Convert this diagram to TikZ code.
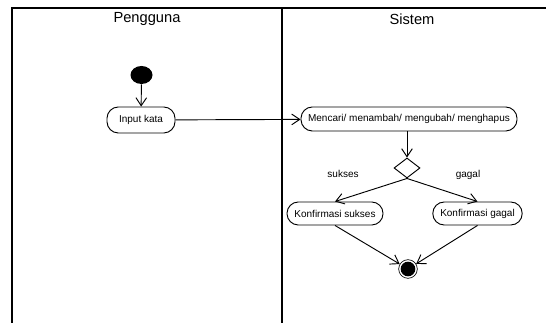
\documentclass[tikz,border=0pt]{standalone}
\usepackage{fontspec}
\setmainfont{Liberation Sans}
\usetikzlibrary{arrows.meta,shapes.geometric}

\tikzset{
  lane/.style={line width=1pt, draw=black},
  action/.style={draw, line width=0.7pt, rounded corners=8.5pt, inner sep=0pt,
                 minimum height=18pt, font=\fontsize{7.5}{9}\selectfont},
  flow/.style={line width=0.7pt, -{Straight Barb[length=6pt,width=8pt,line width=0.7pt]}},
  lanetitle/.style={font=\fontsize{11}{13}\selectfont},
  guard/.style={font=\fontsize{7.5}{9}\selectfont},
  decision/.style={draw, diamond, line width=0.7pt, inner sep=0pt,
                   minimum width=19.5pt, minimum height=15pt},
}

\begin{document}
\begin{tikzpicture}[x=0.75pt, y=-0.75pt]
  \useasboundingbox (0,0) rectangle (546,323);

  % swimlanes
  \draw[lane] (12,323) -- (12,8) -- (546,8);
  \draw[lane] (282,8) -- (282,323);
  \node[lanetitle] (lanePengguna) at (147,19) {Pengguna};
  \node[lanetitle] (laneSistem) at (412,19) {Sistem};

  % start and end
  \node[ellipse, fill=black, minimum width=16.5pt, minimum height=13.5pt, inner sep=0pt] (start) at (141.5,75) {};
  \node[circle, draw, line width=0.5pt, minimum size=14pt, inner sep=0pt] (finish) at (408,269) {};
  \node[circle, fill=black, minimum size=11pt, inner sep=0pt] (finishdot) at (finish) {};

  % actions
  \node[action, minimum width=51pt, minimum height=19.5pt] (input) at (141,120) {Input kata};
  \node[action, minimum width=162pt] (proses) at (409,119) {Mencari/ menambah/ mengubah/ menghapus};
  \node[decision] (cek) at (407,168) {};
  \node[action, minimum width=72pt, minimum height=17.25pt] (sukses) at (335,213.5) {Konfirmasi sukses};
  \node[action, minimum width=67pt, minimum height=17.25pt] (gagal) at (477.5,213.5) {Konfirmasi gagal};

  % guards
  \node[guard] (lblSukses) at (343,174) {sukses};
  \node[guard] (lblGagal) at (468,175) {gagal};

  % flows
  \draw[flow] (start) -- (input);
  \draw[flow] (input) -- (proses);
  \draw[flow] (proses.south -| cek.north) -- (cek.north);
  \draw[flow] (cek.south) -- (sukses.north);
  \draw[flow] (cek.south) -- (gagal.north);
  \draw[flow] (sukses.south) -- (finish);
  \draw[flow] (gagal.south) -- (finish);
\end{tikzpicture}
\end{document}
